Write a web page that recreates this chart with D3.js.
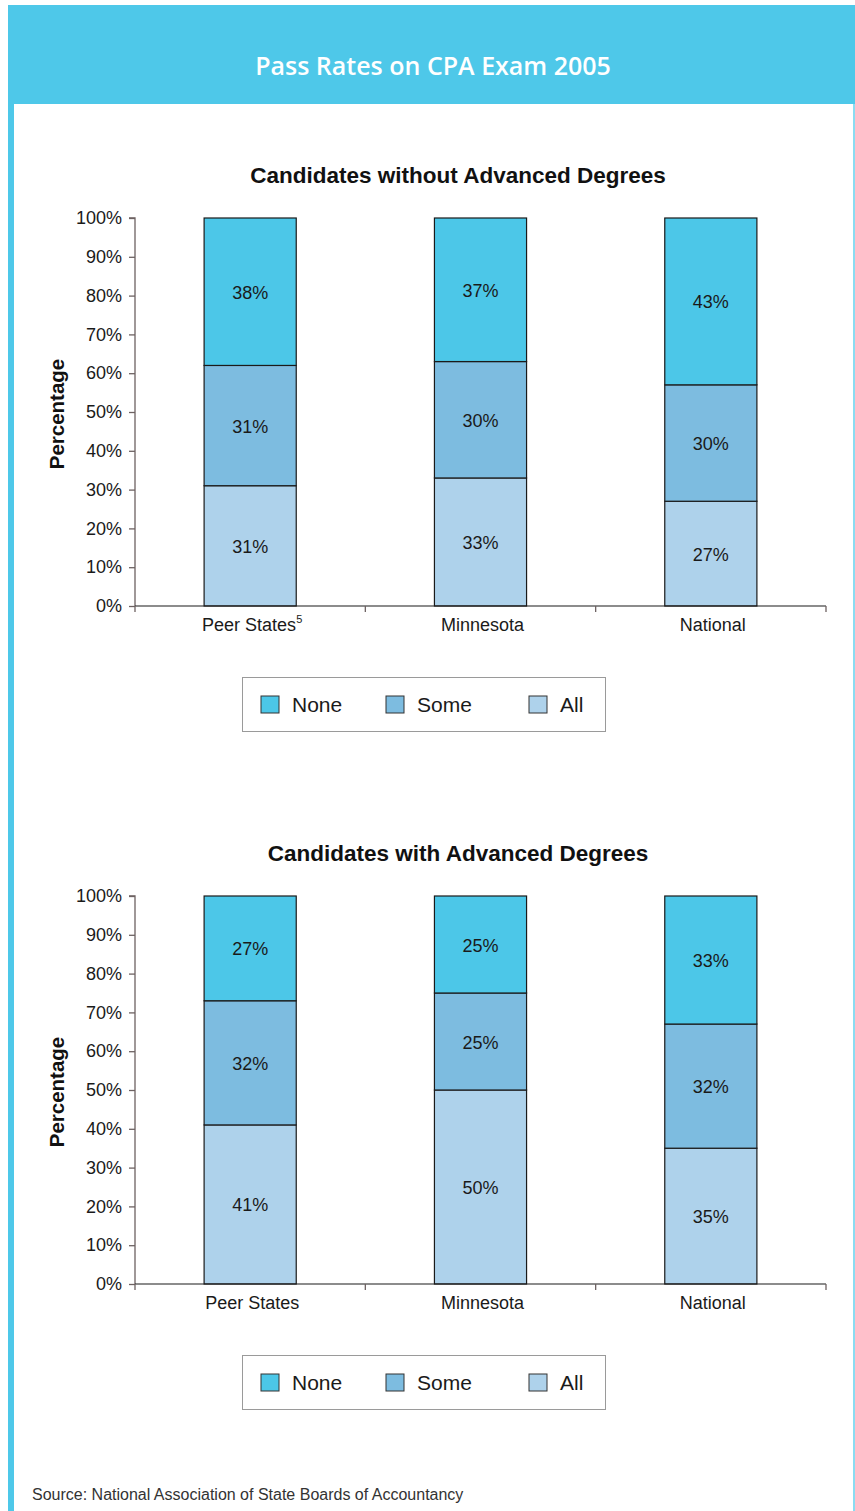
<!DOCTYPE html>
<html><head><meta charset="utf-8">
<script src="https://cdn.jsdelivr.net/npm/d3@7"></script>
<style>body{margin:0;background:#fff}svg{display:block}</style>
</head><body>
<script>
const categories1 = ["Peer States", "Minnesota", "National"];
const categories2 = ["Peer States", "Minnesota", "National"];
const seriesNames = ["All", "Some", "None"];
const all1 = [31, 33, 27];
const some1 = [31, 30, 30];
const none1 = [38, 37, 43];
const all2 = [41, 50, 35];
const some2 = [32, 25, 32];
const none2 = [27, 25, 33];
const yTicks = [0, 10, 20, 30, 40, 50, 60, 70, 80, 90, 100];
const legendOrder = ["None", "Some", "All"];
const colors = {None: "#4CC7E8", Some: "#7DBCE0", All: "#AED2EB"};

const W = 855, H = 1511;
const FONT = "Arial, 'Liberation Sans', sans-serif";
const svg = d3.select("body").append("svg").attr("width", W).attr("height", H);

// frame
svg.append("rect").attr("x", 8).attr("y", 5).attr("width", W - 8).attr("height", 99).attr("fill", "#4EC8E9");
svg.append("rect").attr("x", 8).attr("y", 104).attr("width", 6).attr("height", H - 104).attr("fill", "#4EC8E9");
svg.append("rect").attr("x", 853).attr("y", 104).attr("width", 2).attr("height", H - 104).attr("fill", "#8ADCF2");
svg.append("text").attr("x", 433).attr("y", 75).attr("text-anchor", "middle")
  .attr("font-family", "'Open Sans'").attr("font-weight", "600").attr("font-size", 25)
  .attr("fill", "#fff").text("Pass Rates on CPA Exam 2005");

function drawChart(cfg) {
  const g = svg.append("g");
  const x = d3.scaleBand().domain(cfg.categories).range([135, 826]).paddingInner(0.6).paddingOuter(0.3);
  const xb = d3.scaleBand().domain(cfg.categories).range([135, 826]);
  const y = d3.scaleLinear().domain([0, 100]).range([cfg.y0, cfg.y0 - 388]);

  g.append("text").attr("x", 458).attr("y", cfg.y0 - 423).attr("text-anchor", "middle")
    .attr("font-family", FONT).attr("font-weight", "bold").attr("font-size", 22.5)
    .attr("fill", "#111").text(cfg.title);

  const table = cfg.categories.map((c, i) => ({cat: c, All: cfg.all[i], Some: cfg.some[i], None: cfg.none[i]}));
  const stacked = d3.stack().keys(seriesNames)(table);

  stacked.forEach(layer => {
    const key = layer.key;
    layer.forEach((d, i) => {
      const cat = cfg.categories[i];
      g.append("rect").attr("x", x(cat)).attr("width", x.bandwidth())
        .attr("y", y(d[1])).attr("height", y(d[0]) - y(d[1]))
        .attr("fill", colors[key]).attr("stroke", "#1a1a1a").attr("stroke-width", 1.2);
      g.append("text").attr("x", x(cat) + x.bandwidth() / 2).attr("y", y((d[0] + d[1]) / 2) + 7)
        .attr("text-anchor", "middle").attr("font-family", FONT).attr("font-size", 18)
        .attr("fill", "#1a1a1a").text(d.data[key] + "%");
    });
  });

  // y axis
  const yAxis = g.append("g").attr("transform", "translate(135,0)")
    .call(d3.axisLeft(y).tickValues(yTicks).tickFormat(d => d + "%").tickSize(6).tickPadding(7));
  yAxis.selectAll("path,line").attr("stroke", "#6d6262").attr("stroke-width", 1.3);
  yAxis.select(".domain").attr("d", `M-6,${y(100)}H0V${y(0)}`);
  yAxis.selectAll("text").attr("font-family", FONT).attr("font-size", 18).attr("fill", "#1a1a1a");

  // x axis
  const xg = g.append("g").attr("transform", `translate(0,${cfg.y0})`);
  xg.append("line").attr("x1", 135).attr("x2", 826).attr("stroke", "#1a1a1a").attr("stroke-width", 1.2);
  cfg.categories.forEach(c => {
    xg.append("line").attr("x1", xb(c) + xb.bandwidth()).attr("x2", xb(c) + xb.bandwidth())
      .attr("y1", 0).attr("y2", 6).attr("stroke", "#6d6262").attr("stroke-width", 1.3);
  });
  xg.append("line").attr("x1", 135).attr("x2", 135).attr("y1", 0).attr("y2", 6).attr("stroke", "#6d6262").attr("stroke-width", 1.3);
  cfg.categories.forEach((c, i) => {
    const t = xg.append("text").attr("x", x(c) + x.bandwidth() / 2 + 2).attr("y", 25).attr("text-anchor", "middle")
      .attr("font-family", FONT).attr("font-size", 18).attr("fill", "#1a1a1a").text(c);
    if (cfg.footnote && i === 0) {
      t.append("tspan").attr("font-size", 11).attr("dy", -8).text(cfg.footnote);
    }
  });

  // y label
  g.append("text").attr("transform", `translate(64,${y(50) + 2}) rotate(-90)`).attr("text-anchor", "middle")
    .attr("font-family", FONT).attr("font-weight", "bold").attr("font-size", 20.5)
    .attr("fill", "#111").text("Percentage");

  // legend
  const ly = cfg.y0 + 71;
  g.append("rect").attr("x", 242.5).attr("y", ly + 0.5).attr("width", 363).attr("height", 54)
    .attr("fill", "#fff").attr("stroke", "#9a9a9a").attr("stroke-width", 1);
  const lx = {None: 261, Some: 386, All: 529};
  legendOrder.forEach(k => {
    g.append("rect").attr("x", lx[k]).attr("y", ly + 19).attr("width", 18).attr("height", 17)
      .attr("fill", colors[k]).attr("stroke", "#333").attr("stroke-width", 1);
    g.append("text").attr("x", lx[k] + 31).attr("y", ly + 35).attr("font-family", FONT)
      .attr("font-size", 21).attr("fill", "#1a1a1a").text(k);
  });
}

drawChart({title: "Candidates without Advanced Degrees", categories: categories1, all: all1, some: some1, none: none1, y0: 606, footnote: "5"});
drawChart({title: "Candidates with Advanced Degrees", categories: categories2, all: all2, some: some2, none: none2, y0: 1284});

svg.append("text").attr("x", 32).attr("y", 1500).attr("font-family", FONT).attr("font-size", 16)
  .attr("fill", "#333").text("Source: National Association of State Boards of Accountancy");
</script>
</body></html>
